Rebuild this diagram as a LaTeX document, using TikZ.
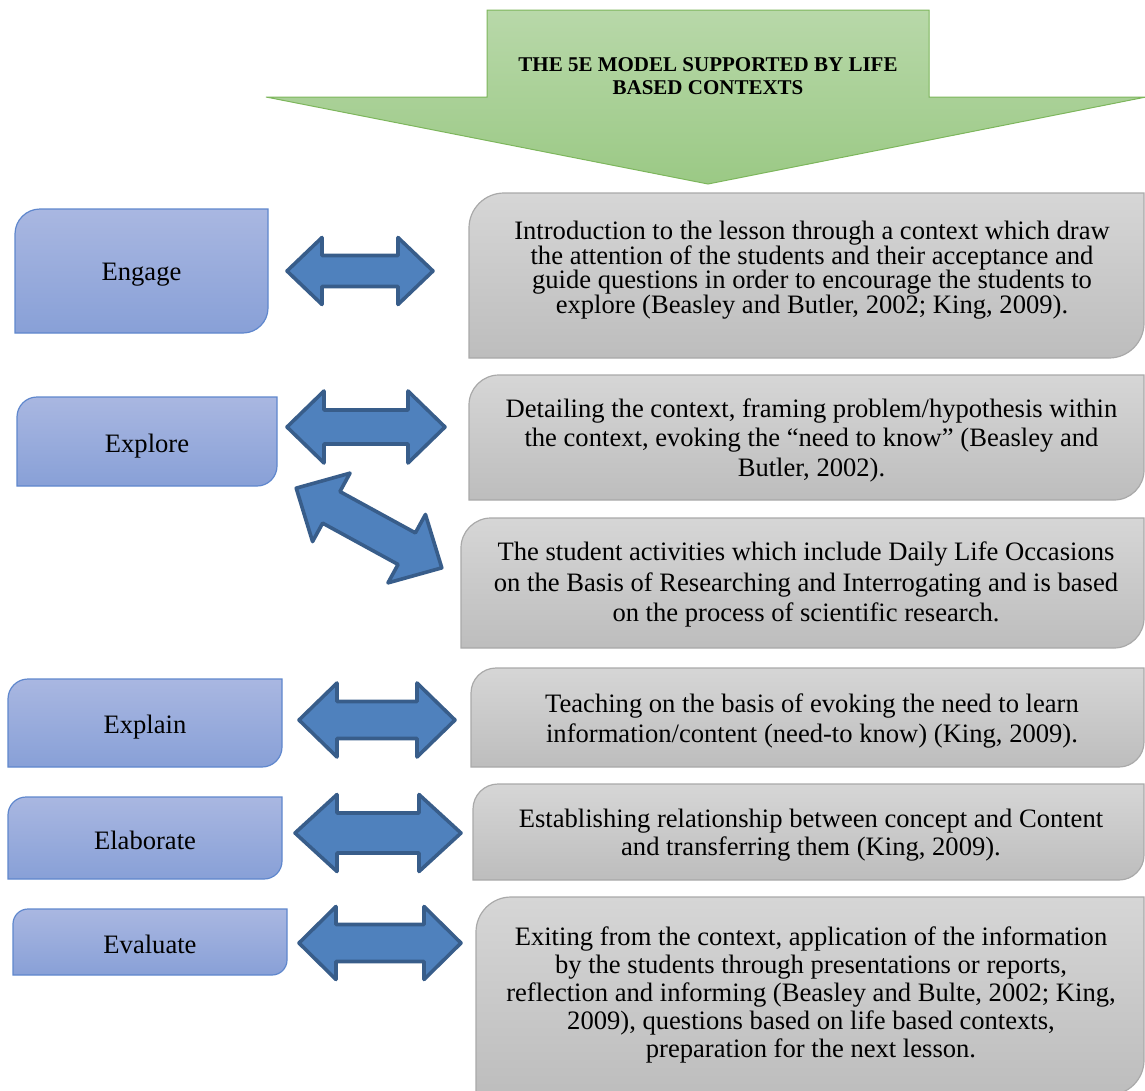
\documentclass[tikz,border=0pt]{standalone}
\usepackage{fontspec}
\setmainfont{Liberation Serif}
\definecolor{bluetop}{HTML}{A9B7E1}
\definecolor{bluebot}{HTML}{88A0D7}
\definecolor{blueline}{HTML}{5F87CD}
\definecolor{greytop}{HTML}{D6D6D6}
\definecolor{greybot}{HTML}{BDBDBD}
\definecolor{greyline}{HTML}{A9A9A9}
\definecolor{greentop}{HTML}{B8D8A9}
\definecolor{greenbot}{HTML}{9BC985}
\definecolor{greenline}{HTML}{7DB65C}
\definecolor{arrfill}{HTML}{4F81BD}
\definecolor{arrline}{HTML}{385D8A}
\tikzset{
  bluebox/.style={top color=bluetop, bottom color=bluebot, draw=blueline, line width=1.2pt},
  greybox/.style={top color=greytop, bottom color=greybot, draw=greyline, line width=1.2pt},
  barrow/.style={fill=arrfill, draw=arrline, line width=3.6pt, line join=round},
  txt/.style={align=center, inner sep=0pt, font=\fontsize{26.6}{30}\selectfont},
  title/.style={align=center, inner sep=0pt, font=\fontsize{21}{23.5}\selectfont\bfseries},
}
% box with rounded top-left and bottom-right corners
\newcommand\cornerbox[6]{%
  \path[#6] (#1,#4) -- (#1,#2+#5) .. controls (#1,#2+0.448*#5) and (#1+0.448*#5,#2) .. (#1+#5,#2)
    -- (#3,#2) -- (#3,#4-#5) .. controls (#3,#4-0.448*#5) and (#3-0.448*#5,#4) .. (#3-#5,#4) -- cycle;}
% double block arrow: cx, cy, angle, half length, head length, head half width, shaft half width
\newcommand\dblarrow[7]{%
  \draw[barrow, shift={(#1,#2)}, rotate=#3] (-#4,0) -- (-#4+#5,#6) -- (-#4+#5,#7) -- (#4-#5,#7)
    -- (#4-#5,#6) -- (#4,0) -- (#4-#5,-#6) -- (#4-#5,-#7) -- (-#4+#5,-#7) -- (-#4+#5,-#6) -- cycle;}
\begin{document}
\begin{tikzpicture}[x=1pt,y=-1pt]
\useasboundingbox (0,0) rectangle (1145,1090);
% green title arrow
\path[top color=greentop, bottom color=greenbot, draw=greenline, line width=1pt]
  (487,10) -- (929,10) -- (929,97) -- (1146,97) -- (708,184) -- (266,97) -- (487,97) -- cycle;
\node[title] (title) at (708,76) {THE 5E MODEL SUPPORTED BY LIFE\\BASED CONTEXTS};
% left boxes
\cornerbox{15}{209}{268}{333}{25}{bluebox}
\node[txt] (engage) at (141.5,275) {Engage};
\cornerbox{17}{397}{277}{486}{20}{bluebox}
\node[txt] (explore) at (147,446) {Explore};
\cornerbox{8}{679}{282}{767}{20}{bluebox}
\node[txt] (explain) at (145,727) {Explain};
\cornerbox{8}{797}{282}{879}{18}{bluebox}
\node[txt] (elaborate) at (145,840) {Elaborate};
\cornerbox{13}{909}{287}{975}{15}{bluebox}
\node[txt] (evaluate) at (150,944) {Evaluate};
% right boxes
\cornerbox{469}{193}{1144}{358}{35}{greybox}
\node[txt, font=\fontsize{26.6}{24.5}\selectfont] (d1) at (812,270) {Introduction to the lesson through a context which draw\\the attention of the students and their acceptance and\\guide questions in order to encourage the students to\\explore (Beasley and Butler, 2002; King, 2009).};
\cornerbox{469}{375}{1144}{500}{30}{greybox}
\node[txt, font=\fontsize{26.6}{29.5}\selectfont] (d2) at (811.5,440) {Detailing the context, framing problem/hypothesis within\\the context, evoking the “need to know” (Beasley and\\Butler, 2002).};
\cornerbox{461}{518}{1144}{648}{30}{greybox}
\node[txt, font=\fontsize{26.6}{30.5}\selectfont] (d3) at (806,584.5) {The student activities which include Daily Life Occasions\\on the Basis of Researching and Interrogating and is based\\on the process of scientific research.};
\cornerbox{471}{668}{1144}{767}{25}{greybox}
\node[txt] (d4) at (812,721) {Teaching on the basis of evoking the need to learn\\information/content (need-to know) (King, 2009).};
\cornerbox{473}{784}{1144}{880}{25}{greybox}
\node[txt, font=\fontsize{26.6}{28}\selectfont] (d5) at (811,835) {Establishing relationship between concept and Content\\and transferring them (King, 2009).};
\cornerbox{476}{897}{1144}{1095}{35}{greybox}
\node[txt, font=\fontsize{26.6}{28}\selectfont] (d6) at (811,995) {Exiting from the context, application of the information\\by the students through presentations or reports,\\reflection and informing (Beasley and Bulte, 2002; King,\\2009), questions based on life based contexts,\\preparation for the next lesson.};
% double arrows
\dblarrow{360}{271}{0}{73}{35}{33.5}{15.5}
\dblarrow{366}{427}{0}{79}{37}{36}{17}
\dblarrow{369}{528}{-28.7}{83}{40}{39}{18}
\dblarrow{377}{720}{0}{78}{38}{37}{18.5}
\dblarrow{378}{833}{0}{83}{42}{38.5}{20}
\dblarrow{380}{943}{0}{81}{37}{36.5}{18.5}
\end{tikzpicture}
\end{document}
